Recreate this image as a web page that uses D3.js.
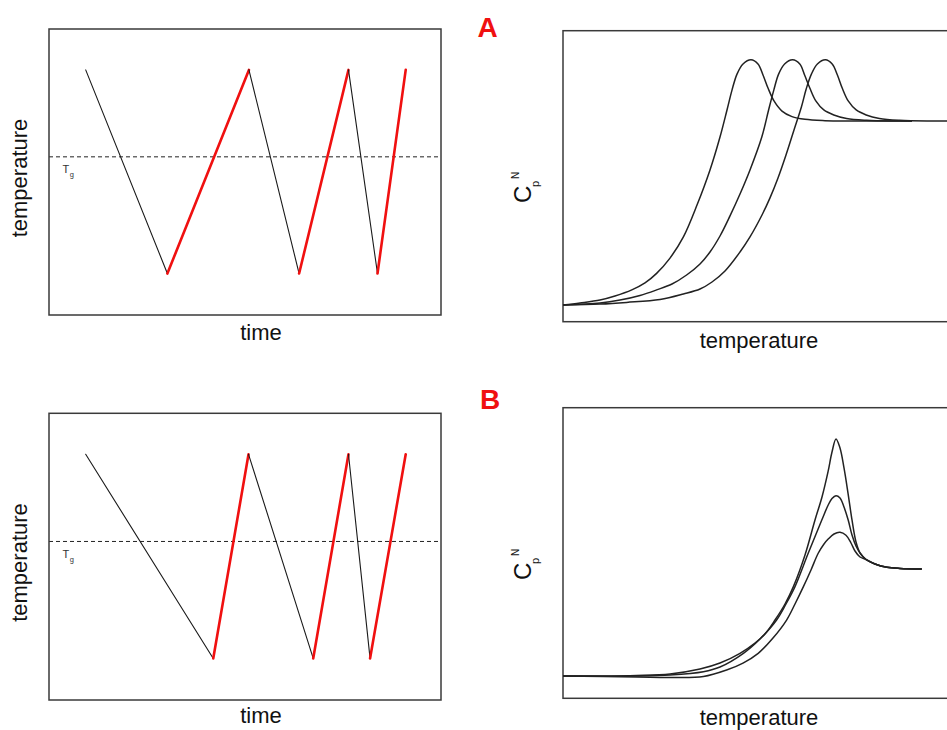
<!DOCTYPE html>
<html>
<head>
<meta charset="utf-8">
<script src="https://cdn.jsdelivr.net/npm/d3@7"></script>
<style>
  html, body { margin: 0; padding: 0; background: #fff; }
  svg { display: block; font-family: "Liberation Sans", Arial, Helvetica, sans-serif; }
</style>
</head>
<body>
<svg id="chart" width="947" height="730"></svg>
<script>
// ---------- DATA ----------
// Left panels: temperature history (time, temperature) in arbitrary units 0..100
const tempHigh = 85.7, tempLow = 14.5, tempTg = 55.3;
const timeA = [9.36, 30.2, 51.0, 63.8, 76.4, 83.8, 91.0];
const tempA = [tempHigh, tempLow, tempHigh, tempLow, tempHigh, tempLow, tempHigh];
const timeB = [9.36, 41.9, 50.9, 67.4, 76.4, 81.9, 91.0];
const tempB = [tempHigh, tempLow, tempHigh, tempLow, tempHigh, tempLow, tempHigh];

// Right panel A: normalized heat capacity vs temperature (three heating scans)
const cpA1_T = [0, 4.25, 9.25, 13, 17.2, 20.5, 23.4, 26.75, 30.1, 33.5, 36.75, 39.25, 41, 42.25, 43.5, 45, 47, 48.75, 50, 51.25, 52.75, 54.75, 57.25, 60.5, 65.5, 71.75, 87.25];
const cpA1_C = [0, 0.011, 0.027, 0.049, 0.082, 0.120, 0.172, 0.255, 0.370, 0.543, 0.734, 0.913, 1.060, 1.168, 1.255, 1.310, 1.333, 1.310, 1.250, 1.179, 1.109, 1.054, 1.024, 1.009, 1.002, 1.0, 1.0];
const cpA2_T = [0, 9.25, 14.25, 19.25, 23.4, 27.25, 30.9, 34.25, 36.75, 39.25, 41.75, 44.25, 46.75, 49.7, 51.4, 52.7, 53.9, 55.4, 57.4, 59.2, 60.4, 61.7, 63.2, 65.2, 67.7, 70.9, 75.9, 81.75, 87.25];
const cpA2_C = [0, 0.011, 0.027, 0.052, 0.082, 0.114, 0.163, 0.223, 0.288, 0.375, 0.484, 0.603, 0.734, 0.913, 1.060, 1.168, 1.255, 1.310, 1.333, 1.310, 1.250, 1.179, 1.109, 1.060, 1.033, 1.014, 1.004, 1.0, 1.0];
const cpA3_T = [0, 9.25, 15.9, 24.25, 30.1, 34.25, 37.25, 40.5, 44.25, 46.75, 49.75, 51.75, 53.75, 55.75, 57.75, 59.6, 60.8, 62.1, 63.6, 65.6, 67.3, 68.6, 69.8, 71.3, 73.3, 75.8, 79.1, 84.1, 91.75, 98];
const cpA3_C = [0, 0.005, 0.014, 0.030, 0.060, 0.087, 0.125, 0.185, 0.288, 0.370, 0.489, 0.582, 0.690, 0.815, 0.951, 1.076, 1.174, 1.255, 1.310, 1.333, 1.310, 1.250, 1.179, 1.109, 1.060, 1.033, 1.014, 1.004, 1.0, 1.0];

// Right panel B: three scans with different overshoot heights
const cpB1_T = [0, 9.25, 18.4, 26.75, 34.25, 39.25, 44.25, 48, 50.5, 53, 55.5, 57.6, 60.5, 63, 64.75, 66.25, 67.25, 68.25, 69.25, 70.25, 71.25, 72.25, 73.25, 74.25, 75.75, 78, 81, 84.25, 89.7];
const cpB1_C = [0, 0, 0.005, 0.019, 0.065, 0.121, 0.212, 0.308, 0.393, 0.523, 0.673, 0.835, 1.131, 1.458, 1.673, 1.907, 2.093, 2.215, 2.131, 1.944, 1.710, 1.458, 1.252, 1.150, 1.089, 1.047, 1.016, 1.005, 1.0];
const cpB2_T = [0, 18.4, 26.75, 35.1, 39.25, 45.1, 49.25, 53.4, 55.75, 58, 61.3, 64.7, 66.3, 67.25, 68.25, 69.25, 70.25, 71.3, 72.25, 73.25, 74.25, 75.75, 78, 81, 84.25, 89.7];
const cpB2_C = [0, 0, 0.009, 0.040, 0.084, 0.212, 0.346, 0.523, 0.673, 0.835, 1.147, 1.458, 1.598, 1.659, 1.685, 1.664, 1.579, 1.458, 1.318, 1.215, 1.150, 1.089, 1.047, 1.016, 1.005, 1.0];
const cpB3_T = [0, 18.4, 26.75, 35.1, 40.9, 45, 48.8, 52.5, 55.9, 58, 60.1, 62, 63.8, 65.25, 66.3, 67.75, 69.25, 70.75, 72, 73, 74.25, 75.75, 78, 81, 84.25, 89.7];
const cpB3_C = [0, -0.009, -0.014, -0.005, 0.056, 0.121, 0.212, 0.355, 0.523, 0.673, 0.835, 0.991, 1.147, 1.234, 1.280, 1.327, 1.343, 1.315, 1.243, 1.168, 1.112, 1.089, 1.047, 1.016, 1.005, 1.0];

const panelLetters = ["A", "B"];
const xLabelLeft = "time";
const xLabelRight = "temperature";
const yLabelLeft = "temperature";

// ---------- DRAWING ----------
const svg = d3.select("#chart");
const zip = (a, b) => a.map((v, i) => [v, b[i]]);

const boxStroke = "#3a3a3a";

function drawHistory(box, times, temps, label) {
  const x = d3.scaleLinear().domain([0, 100]).range([box.x0, box.x1]);
  const y = d3.scaleLinear().domain([0, 100]).range([box.y1, box.y0]);
  const g = svg.append("g");
  g.append("line")
    .attr("x1", x(0)).attr("x2", x(100))
    .attr("y1", y(tempTg)).attr("y2", y(tempTg))
    .attr("stroke", "#222").attr("stroke-width", 1)
    .attr("stroke-dasharray", "4,3");
  const pts = zip(times, temps);
  for (let i = 0; i < pts.length - 1; i++) {
    const heating = pts[i + 1][1] > pts[i][1];
    g.append("line")
      .attr("x1", x(pts[i][0])).attr("y1", y(pts[i][1]))
      .attr("x2", x(pts[i + 1][0])).attr("y2", y(pts[i + 1][1]))
      .attr("stroke", heating ? "#f01010" : "#1a1a1a")
      .attr("stroke-width", heating ? 2.6 : 1.1)
      .attr("stroke-linecap", "round");
  }
  g.append("rect")
    .attr("x", box.x0).attr("y", box.y0)
    .attr("width", box.x1 - box.x0).attr("height", box.y1 - box.y0)
    .attr("fill", "none").attr("stroke", boxStroke).attr("stroke-width", 1.5);
  const tg = g.append("text").attr("x", box.x0 + 13.5).attr("y", y(tempTg) + 16.5)
    .attr("fill", "#333").attr("font-size", 11);
  tg.append("tspan").text("T");
  tg.append("tspan").attr("dx", 0.5).attr("dy", 4).attr("font-size", 7.5).text("g");
  g.append("text").attr("x", box.x0 + 212).attr("y", label.timeY)
    .attr("text-anchor", "middle").attr("font-size", 22).attr("fill", "#111").text(xLabelLeft);
  g.append("text")
    .attr("transform", `translate(27,${label.tempCY}) rotate(-90)`)
    .attr("text-anchor", "middle").attr("font-size", 22).attr("fill", "#111").text(yLabelLeft);
}

function drawCp(box, yBase, yPlat, series, label) {
  const x = d3.scaleLinear().domain([0, 98]).range([box.x0, box.x1]);
  const y = d3.scaleLinear().domain([0, 1]).range([yBase, yPlat]);
  const line = d3.line().x(d => x(d[0])).y(d => y(d[1])).curve(d3.curveCatmullRom.alpha(0.5));
  const g = svg.append("g");
  g.append("rect")
    .attr("x", box.x0).attr("y", box.y0)
    .attr("width", box.x1 - box.x0).attr("height", box.y1 - box.y0)
    .attr("fill", "none").attr("stroke", boxStroke).attr("stroke-width", 1.5);
  series.forEach(s => {
    g.append("path").datum(zip(s[0], s[1]))
      .attr("d", line).attr("fill", "none")
      .attr("stroke", "#222").attr("stroke-width", 1.5);
  });
  g.append("text").attr("x", 759).attr("y", label.tempY)
    .attr("text-anchor", "middle").attr("font-size", 22).attr("fill", "#111").text(xLabelRight);
  const lg = g.append("g").attr("transform", `translate(531,${label.cpY}) rotate(-90)`);
  lg.append("text").attr("x", 0).attr("y", 0).attr("font-size", 24).attr("fill", "#111").text("C");
  lg.append("text").attr("x", 16).attr("y", 8).attr("font-size", 11).attr("fill", "#111").text("p");
  lg.append("text").attr("x", 24).attr("y", -12).attr("font-size", 10).attr("fill", "#111").text("N");
  svg.append("text").attr("x", label.letterX).attr("y", label.letterY)
    .attr("text-anchor", "middle").attr("font-size", 28).attr("font-weight", "bold")
    .attr("fill", "#f01010").text(label.letter);
}

// Panel A
drawHistory({ x0: 49, x1: 441, y0: 29, y1: 315 }, timeA, tempA, { timeY: 340, tempCY: 178 });
drawCp({ x0: 563, x1: 955, y0: 30.7, y1: 321.7 }, 305, 121,
  [[cpA1_T, cpA1_C], [cpA2_T, cpA2_C], [cpA3_T, cpA3_C]],
  { tempY: 348, cpY: 203, letter: panelLetters[0], letterX: 487.5, letterY: 37 });

// Panel B
drawHistory({ x0: 49, x1: 441, y0: 413.3, y1: 700 }, timeB, tempB, { timeY: 723, tempCY: 562.5 });
drawCp({ x0: 563, x1: 955, y0: 407.7, y1: 698.3 }, 676, 569,
  [[cpB1_T, cpB1_C], [cpB2_T, cpB2_C], [cpB3_T, cpB3_C]],
  { tempY: 725, cpY: 580, letter: panelLetters[1], letterX: 490, letterY: 409 });
</script>
</body>
</html>
